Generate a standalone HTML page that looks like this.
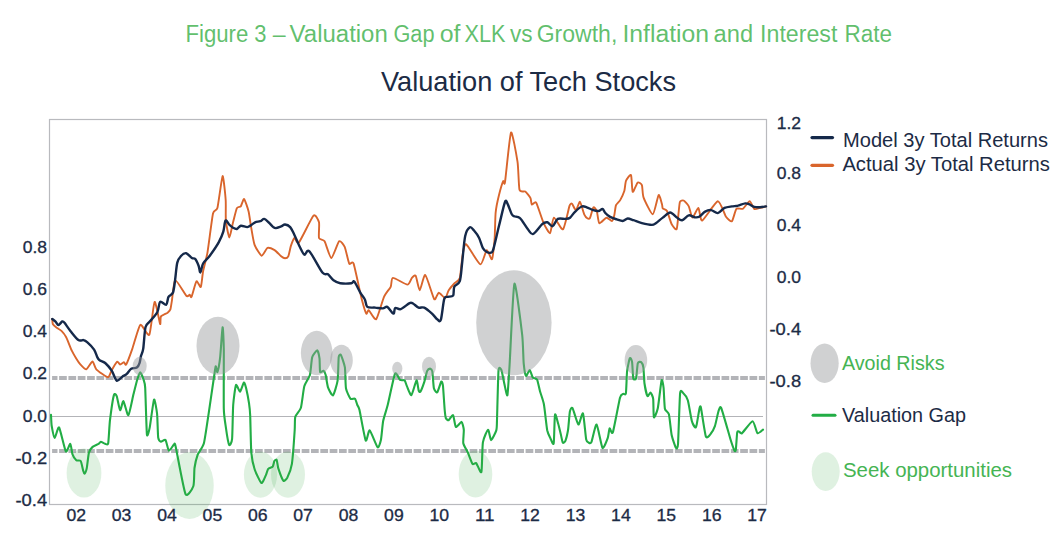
<!DOCTYPE html><html><head><meta charset="utf-8"><title>Valuation of Tech Stocks</title><style>
html,body{margin:0;padding:0;background:#fff;}body{width:1064px;height:538px;overflow:hidden;}svg{display:block;}
text{font-family:"Liberation Sans",sans-serif;}
</style></head><body>
<svg width="1064" height="538" viewBox="0 0 1064 538">
<rect x="0" y="0" width="1064" height="538" fill="#fff"/>
<text x="185.4" y="41.8" font-size="23" fill="#45b453" fill-opacity="0.85" textLength="63.0" lengthAdjust="spacingAndGlyphs">Figure</text>
<text x="254.2" y="41.8" font-size="23" fill="#45b453" fill-opacity="0.85" textLength="12.2" lengthAdjust="spacingAndGlyphs">3</text>
<text x="272.7" y="41.8" font-size="23" fill="#45b453" fill-opacity="0.85" textLength="12.9" lengthAdjust="spacingAndGlyphs">–</text>
<text x="289.6" y="41.8" font-size="23" fill="#45b453" fill-opacity="0.85" textLength="98.2" lengthAdjust="spacingAndGlyphs">Valuation</text>
<text x="393.4" y="41.8" font-size="23" fill="#45b453" fill-opacity="0.85" textLength="41.1" lengthAdjust="spacingAndGlyphs">Gap</text>
<text x="439.7" y="41.8" font-size="23" fill="#45b453" fill-opacity="0.85" textLength="20.8" lengthAdjust="spacingAndGlyphs">of</text>
<text x="464.5" y="41.8" font-size="23" fill="#45b453" fill-opacity="0.85" textLength="41.1" lengthAdjust="spacingAndGlyphs">XLK</text>
<text x="509.9" y="41.8" font-size="23" fill="#45b453" fill-opacity="0.85" textLength="22.6" lengthAdjust="spacingAndGlyphs">vs</text>
<text x="536.7" y="41.8" font-size="23" fill="#45b453" fill-opacity="0.85" textLength="80.6" lengthAdjust="spacingAndGlyphs">Growth,</text>
<text x="622.4" y="41.8" font-size="23" fill="#45b453" fill-opacity="0.85" textLength="86.7" lengthAdjust="spacingAndGlyphs">Inflation</text>
<text x="713.6" y="41.8" font-size="23" fill="#45b453" fill-opacity="0.85" textLength="39.5" lengthAdjust="spacingAndGlyphs">and</text>
<text x="760.1" y="41.8" font-size="23" fill="#45b453" fill-opacity="0.85" textLength="77.3" lengthAdjust="spacingAndGlyphs">Interest</text>
<text x="844.4" y="41.8" font-size="23" fill="#45b453" fill-opacity="0.85" textLength="47.5" lengthAdjust="spacingAndGlyphs">Rate</text>
<text x="381" y="90.8" font-size="27.5" fill="#1c2b45" textLength="295" lengthAdjust="spacingAndGlyphs">Valuation of Tech Stocks</text>
<rect x="49.5" y="119.5" width="717" height="385" fill="none" stroke="#b9babe" stroke-width="1.2"/>
<line x1="52" y1="416.5" x2="763" y2="416.5" stroke="#b3b4b8" stroke-width="1.2"/>
<line x1="52.1" y1="378.0" x2="764.9" y2="378.0" stroke="#b3b4b8" stroke-width="4" stroke-dasharray="7.7 1.63" stroke-dashoffset="2.33"/>
<line x1="52.1" y1="451.0" x2="764.9" y2="451.0" stroke="#b3b4b8" stroke-width="4" stroke-dasharray="7.7 1.63" stroke-dashoffset="2.33"/>
<path d="M52.2,318.9 C52.3,319.4 52.4,323.2 52.8,324.0 C53.2,324.8 55.2,326.6 56.1,327.3 C57.0,328.0 60.7,330.2 61.7,331.2 C62.7,332.2 65.2,335.4 66.2,337.3 C67.2,339.2 70.8,348.6 71.8,350.7 C72.8,352.8 75.4,357.2 76.2,358.5 C77.0,359.8 79.1,363.0 80.1,364.1 C81.1,365.2 85.1,369.6 86.3,369.3 C87.5,369.0 91.5,361.5 92.5,361.5 C93.5,361.5 94.8,367.7 96.3,369.3 C97.8,370.9 106.3,377.1 107.8,377.3 C109.3,377.5 110.5,372.7 111.1,371.7 C111.7,370.7 112.8,368.2 113.4,367.2 C114.0,366.2 116.6,362.0 117.3,361.7 C118.0,361.4 119.4,364.4 120.1,364.5 C120.8,364.6 123.4,362.2 124.0,362.2 C124.6,362.2 125.4,365.8 126.2,364.5 C127.0,363.2 130.9,352.9 132.3,348.9 C133.7,344.9 138.6,326.3 140.3,324.9 C142.0,323.5 147.9,337.1 149.3,334.8 C150.7,332.5 153.5,303.0 154.6,301.9 C155.7,300.8 159.5,322.6 160.1,324.0 C160.7,325.4 160.2,317.5 161.0,316.4 C161.8,315.3 166.7,313.4 167.6,312.7 C168.5,312.0 170.0,310.5 170.4,309.4 C170.8,308.3 171.3,304.3 171.8,301.4 C172.3,298.5 173.8,280.8 175.2,280.2 C176.6,279.6 184.9,294.4 186.3,295.8 C187.8,297.2 189.2,294.6 189.7,294.7 C190.2,294.8 190.8,298.2 191.5,296.9 C192.2,295.6 195.5,282.3 196.4,281.3 C197.3,280.3 200.1,287.9 200.8,286.9 C201.5,285.9 202.4,274.8 203.1,271.3 C203.8,267.8 206.5,258.1 207.5,252.3 C208.5,246.5 212.0,217.9 213.0,213.5 C214.0,209.1 216.4,211.7 217.4,208.0 C218.4,204.3 221.8,176.9 222.6,176.1 C223.4,175.3 225.4,195.7 225.7,200.2 C226.0,204.7 225.5,217.5 225.9,221.2 C226.3,224.9 228.7,237.4 229.4,237.5 C230.1,237.6 232.2,225.4 233.0,222.5 C233.8,219.6 236.1,209.8 236.9,208.2 C237.7,206.6 240.1,207.2 240.8,206.3 C241.5,205.4 243.3,198.6 244.1,199.1 C244.9,199.6 247.9,208.6 248.6,211.5 C249.3,214.4 250.6,224.4 251.2,227.7 C251.8,231.0 253.5,241.8 254.5,244.6 C255.5,247.4 260.3,255.4 261.6,255.7 C262.9,256.0 266.2,248.5 267.5,247.9 C268.8,247.3 273.2,249.3 274.6,250.1 C276.0,250.9 280.1,255.5 281.1,256.3 C282.1,257.1 284.3,258.3 285.0,258.3 C285.7,258.3 287.7,257.5 288.3,256.3 C288.9,255.1 290.3,247.7 290.9,245.9 C291.5,244.1 293.7,238.3 294.5,238.0 C295.3,237.7 297.1,244.6 299.0,242.4 C300.9,240.2 311.5,217.7 313.5,215.7 C315.5,213.7 318.4,220.1 319.0,222.3 C319.6,224.5 318.4,236.1 319.0,238.0 C319.6,239.9 323.4,239.3 324.6,241.3 C325.8,243.3 329.9,258.0 331.3,258.0 C332.8,258.0 337.8,242.4 339.1,241.3 C340.4,240.2 343.7,244.7 344.7,246.9 C345.7,249.1 348.3,261.9 349.2,263.6 C350.1,265.3 352.4,260.1 353.6,263.6 C354.9,267.2 360.4,294.1 361.7,299.1 C363.0,304.1 365.5,312.5 366.2,313.6 C366.9,314.7 367.8,309.6 368.8,310.2 C369.8,310.8 374.7,320.5 376.2,319.2 C377.7,317.9 382.6,300.0 384.0,296.8 C385.4,293.6 389.8,288.7 390.7,286.8 C391.6,284.9 391.2,278.1 392.9,277.9 C394.6,277.7 405.5,284.6 407.4,284.6 C409.3,284.6 411.1,278.8 411.9,277.9 C412.7,277.0 414.9,274.5 415.7,275.7 C416.5,276.9 418.7,290.3 419.7,290.2 C420.7,290.1 423.9,274.1 425.3,275.0 C426.8,275.9 432.9,297.3 434.2,299.1 C435.5,300.9 437.6,292.9 438.7,292.8 C439.8,292.7 444.3,298.3 445.3,298.0 C446.3,297.7 447.8,291.6 448.7,290.2 C449.6,288.8 453.2,284.7 454.3,283.5 C455.4,282.3 459.0,280.6 459.8,277.9 C460.6,275.1 461.9,259.4 462.5,256.0 C463.1,252.6 464.2,243.4 466.0,244.2 C467.8,245.0 478.2,263.8 480.3,264.4 C482.4,265.0 485.6,250.6 486.8,250.1 C488.0,249.6 491.2,260.3 492.0,259.2 C492.8,258.1 494.2,243.6 494.6,239.0 C495.0,234.4 495.2,217.4 495.6,213.0 C496.0,208.6 498.2,198.2 499.0,195.0 C499.8,191.8 502.6,182.5 503.2,181.2 C503.8,179.9 504.2,186.9 505.0,182.0 C505.8,177.1 509.8,134.5 511.0,132.5 C512.2,130.5 516.6,155.9 517.5,161.6 C518.4,167.3 518.7,186.8 519.5,189.8 C520.3,192.8 524.2,190.8 525.3,191.6 C526.4,192.4 529.9,196.8 530.5,198.1 C531.1,199.4 531.2,204.1 531.8,204.6 C532.4,205.1 535.0,201.0 536.2,202.8 C537.4,204.6 542.1,219.8 543.5,222.8 C544.9,225.8 549.0,233.7 550.0,233.2 C551.0,232.7 552.6,218.0 553.9,217.6 C555.2,217.2 561.4,230.5 563.0,229.3 C564.6,228.1 568.6,208.5 569.5,205.9 C570.4,203.3 571.4,203.4 572.0,203.8 C572.6,204.2 575.1,210.4 575.9,210.2 C576.7,210.0 579.2,201.4 580.0,201.8 C580.8,202.2 583.4,212.6 584.2,214.3 C585.0,216.0 587.0,218.2 587.6,218.5 C588.2,218.8 589.5,218.8 590.1,217.7 C590.7,216.6 592.7,208.0 593.4,207.3 C594.1,206.6 596.2,209.4 596.8,211.0 C597.4,212.6 598.3,222.5 599.3,223.2 C600.3,223.9 605.2,217.9 606.5,217.7 C607.8,217.5 611.0,221.2 611.8,221.0 C612.6,220.8 613.9,216.8 614.3,215.2 C614.7,213.6 615.4,206.7 616.0,205.2 C616.6,203.7 619.4,201.5 620.2,200.1 C621.0,198.7 623.7,192.9 624.3,191.0 C624.9,189.1 625.3,182.5 626.0,180.9 C626.7,179.3 630.3,173.9 631.0,175.0 C631.7,176.1 632.0,191.0 632.7,191.8 C633.4,192.6 636.8,183.3 637.7,182.6 C638.6,181.9 641.3,183.6 641.9,185.1 C642.5,186.6 642.5,194.7 643.6,197.6 C644.7,200.5 651.3,214.6 652.8,214.3 C654.3,214.1 657.7,196.1 658.6,195.1 C659.5,194.1 661.6,203.0 662.0,204.3 C662.4,205.6 662.3,207.8 662.8,208.5 C663.3,209.2 666.1,209.4 667.0,211.0 C667.9,212.6 670.7,222.5 671.7,224.3 C672.7,226.1 675.9,230.2 676.6,229.2 C677.3,228.2 678.1,217.3 678.4,214.6 C678.7,211.9 679.4,203.4 679.9,202.0 C680.4,200.6 682.7,200.1 683.6,200.5 C684.5,200.9 687.9,204.7 688.8,206.4 C689.7,208.1 691.5,217.4 692.5,217.6 C693.5,217.8 697.4,207.6 698.4,207.9 C699.4,208.2 700.3,221.2 702.2,220.5 C704.1,219.8 715.4,201.6 717.8,201.2 C720.2,200.8 724.6,214.8 726.0,216.8 C727.4,218.8 730.9,222.1 731.9,221.3 C732.9,220.5 735.3,210.2 736.4,208.9 C737.5,207.6 741.7,209.5 743.0,208.7 C744.3,207.9 748.6,201.2 749.7,201.2 C750.8,201.2 753.2,208.2 754.2,208.9 C755.2,209.6 758.9,208.2 760.1,207.9 C761.3,207.7 765.4,206.6 766.0,206.4" fill="none" stroke="#d9652c" stroke-width="1.9" stroke-linejoin="round" stroke-linecap="round"/>
<path d="M52.2,318.9 C52.7,319.3 54.7,320.8 55.6,321.7 C56.5,322.6 57.4,325.1 58.4,325.1 C59.4,325.1 61.4,321.8 62.3,321.5 C63.2,321.2 63.3,321.3 64.5,322.8 C65.7,324.3 68.5,328.6 70.6,331.2 C72.7,333.8 76.5,338.8 78.4,340.1 C80.3,341.4 82.2,339.8 83.5,340.1 C84.8,340.4 85.8,340.9 87.4,342.3 C89.0,343.7 92.6,347.3 94.1,349.6 C95.6,351.9 96.6,355.8 97.4,357.4 C98.2,359.0 98.4,359.4 99.6,360.2 C100.8,361.0 103.4,361.4 105.2,363.0 C107.0,364.6 110.0,368.0 111.7,370.6 C113.4,373.2 115.1,379.7 116.7,380.6 C118.3,381.5 120.8,377.7 122.3,376.7 C123.8,375.7 125.5,375.1 126.8,373.9 C128.1,372.7 129.7,369.6 131.2,368.7 C132.7,367.8 135.5,368.5 136.8,367.6 C138.1,366.7 139.0,364.6 139.6,362.8 C140.2,361.0 140.5,358.0 141.0,355.9 C141.5,353.8 142.5,353.2 143.2,348.9 C143.9,344.6 144.5,331.4 145.5,327.3 C146.5,323.2 147.9,323.9 149.7,321.6 C151.5,319.3 155.7,315.2 157.3,312.2 C158.9,309.2 158.8,303.0 160.1,301.9 C161.4,300.8 164.9,305.4 166.2,304.7 C167.5,303.9 167.5,298.7 168.5,296.9 C169.5,295.1 172.0,295.2 173.0,292.5 C174.0,289.8 174.6,283.6 175.2,279.1 C175.8,274.6 176.4,266.1 177.3,262.6 C178.2,259.1 179.7,257.4 181.0,256.0 C182.3,254.6 184.6,252.9 186.2,253.2 C187.8,253.5 190.5,257.0 191.9,257.9 C193.3,258.8 194.3,257.8 195.3,259.0 C196.3,260.2 197.8,263.7 198.6,265.7 C199.4,267.7 199.7,272.7 200.4,272.4 C201.1,272.1 201.7,266.0 203.1,263.5 C204.5,261.0 207.5,258.9 209.8,255.7 C212.1,252.5 216.7,245.9 218.7,242.3 C220.7,238.7 222.3,234.9 223.3,231.6 C224.3,228.3 224.6,221.7 225.5,220.6 C226.4,219.5 228.0,223.4 229.1,224.5 C230.2,225.6 231.8,227.0 233.0,227.7 C234.2,228.4 235.7,229.3 236.9,229.0 C238.1,228.7 239.2,226.1 240.8,225.8 C242.4,225.5 245.7,227.2 247.3,227.1 C248.9,227.0 250.0,225.8 251.2,225.1 C252.4,224.4 253.7,222.9 255.1,222.3 C256.5,221.7 258.9,221.7 260.3,221.2 C261.7,220.7 262.9,218.7 264.2,218.9 C265.5,219.1 267.4,221.3 268.8,222.5 C270.2,223.7 272.2,226.3 273.3,227.1 C274.4,227.9 274.7,228.2 275.9,228.1 C277.1,228.0 279.7,226.9 281.1,226.4 C282.5,225.9 283.6,224.4 285.0,224.5 C286.4,224.6 288.8,225.6 290.2,227.1 C291.6,228.6 292.6,231.2 294.1,234.2 C295.6,237.2 298.4,244.1 300.0,247.2 C301.6,250.3 303.1,254.1 304.5,254.7 C305.9,255.3 306.7,248.6 309.4,251.3 C312.1,254.0 319.6,269.1 322.4,272.5 C325.2,275.9 326.3,273.1 328.0,274.3 C329.7,275.5 331.7,279.0 333.5,280.3 C335.3,281.6 337.5,282.8 340.2,283.2 C342.9,283.6 349.3,283.5 351.4,283.2 C353.5,282.9 353.0,280.1 354.3,281.5 C355.6,282.9 358.7,289.9 360.3,292.6 C361.9,295.3 363.8,297.2 364.8,299.3 C365.9,301.4 365.8,305.7 367.3,306.9 C368.8,308.1 372.8,307.4 375.1,307.6 C377.4,307.8 381.1,308.5 382.9,308.4 C384.7,308.3 385.7,306.1 387.3,306.9 C388.9,307.7 392.2,313.4 393.4,313.6 C394.6,313.8 394.1,308.7 395.2,308.0 C396.3,307.3 398.5,309.8 400.7,309.1 C402.9,308.4 407.8,303.9 409.6,303.1 C411.4,302.3 411.6,302.8 413.0,303.5 C414.4,304.2 416.9,307.0 418.6,307.6 C420.3,308.2 422.2,306.7 424.2,307.6 C426.2,308.5 430.0,311.8 432.0,313.6 C434.0,315.4 436.2,318.7 437.5,319.6 C438.8,320.5 439.9,322.7 440.9,319.6 C441.9,316.5 443.2,302.5 444.2,299.1 C445.2,295.7 446.3,297.3 447.6,296.8 C448.9,296.3 452.1,297.2 453.1,295.7 C454.1,294.2 453.3,289.0 454.3,286.8 C455.3,284.6 458.6,284.7 459.8,281.2 C461.0,277.7 461.3,270.2 462.1,263.4 C462.9,256.6 464.0,241.4 465.2,236.0 C466.4,230.6 468.6,228.1 469.9,227.3 C471.2,226.5 472.6,228.9 474.0,230.5 C475.4,232.1 477.7,235.1 479.0,237.7 C480.3,240.3 481.7,246.0 482.9,248.1 C484.1,250.2 485.6,251.3 486.8,252.0 C488.0,252.7 489.7,253.1 490.7,252.7 C491.7,252.3 492.0,253.6 493.3,249.4 C494.6,245.2 497.4,232.1 499.2,225.0 C501.0,217.9 503.7,205.2 505.0,202.0 C506.3,198.8 506.6,202.1 507.6,203.9 C508.6,205.7 510.5,211.8 511.5,213.7 C512.5,215.6 512.8,215.6 514.1,216.3 C515.4,217.0 517.9,216.2 520.0,218.2 C522.1,220.1 525.9,226.9 527.9,229.3 C529.9,231.7 531.0,234.8 533.1,234.0 C535.2,233.2 540.1,225.9 542.2,224.1 C544.3,222.3 545.8,222.0 547.4,222.3 C549.0,222.6 551.0,226.7 552.6,226.2 C554.2,225.7 555.8,220.0 557.8,218.9 C559.8,217.8 563.8,219.1 565.6,218.9 C567.4,218.7 568.6,218.8 570.0,217.7 C571.4,216.6 573.2,213.5 575.0,211.8 C576.8,210.1 579.9,207.2 581.7,206.5 C583.5,205.8 584.9,206.7 586.7,207.3 C588.5,207.9 591.6,209.6 593.4,210.2 C595.2,210.8 597.0,211.2 598.4,211.0 C599.8,210.8 601.6,208.7 602.6,209.0 C603.6,209.3 604.0,211.5 605.1,212.7 C606.2,213.9 608.3,215.9 610.1,216.9 C611.9,217.9 614.9,218.8 616.8,219.4 C618.7,220.0 621.1,221.1 622.7,221.0 C624.3,220.9 626.1,218.6 627.7,218.5 C629.3,218.4 631.4,219.5 633.5,220.2 C635.6,220.9 639.1,222.5 641.9,223.2 C644.7,223.9 649.8,224.9 651.9,224.9 C654.0,224.9 654.2,224.3 655.8,223.2 C657.4,222.1 660.6,219.2 662.8,217.6 C665.0,216.0 668.1,212.5 670.2,212.5 C672.3,212.5 675.1,216.4 676.9,217.6 C678.7,218.8 680.3,220.5 682.1,220.2 C683.9,219.9 686.9,215.7 688.8,215.3 C690.7,214.9 693.1,217.1 694.7,217.3 C696.3,217.5 697.6,217.7 699.2,216.8 C700.8,215.9 703.3,212.6 705.1,211.6 C706.9,210.6 709.2,209.9 711.1,210.1 C713.0,210.3 715.8,213.4 717.8,213.1 C719.8,212.8 722.4,208.9 724.5,207.9 C726.6,206.9 729.9,206.7 731.9,206.4 C733.9,206.1 735.8,206.1 737.8,205.7 C739.8,205.2 743.6,203.6 745.3,203.4 C747.0,203.2 747.7,203.7 749.0,204.2 C750.3,204.7 752.5,206.5 754.2,206.9 C755.9,207.3 758.3,207.3 760.1,207.2 C761.9,207.1 765.1,206.5 766.0,206.4" fill="none" stroke="#15294a" stroke-width="2.4" stroke-linejoin="round" stroke-linecap="round"/>
<path d="M51.0,414.9 C51.1,416.0 51.3,423.7 51.7,426.0 C52.1,428.3 54.0,437.9 54.7,438.0 C55.4,438.1 58.0,426.2 59.1,427.5 C60.2,428.8 64.7,449.7 65.8,451.3 C66.9,452.9 69.6,443.6 70.3,443.9 C71.0,444.2 71.9,452.7 72.5,454.3 C73.1,455.9 75.5,459.6 76.3,460.3 C77.1,461.0 80.0,460.0 80.7,461.0 C81.4,462.0 82.6,468.6 83.0,469.9 C83.4,471.2 84.0,473.8 84.4,473.7 C84.8,473.6 86.2,470.6 86.7,468.5 C87.2,466.4 88.3,455.0 88.9,452.8 C89.5,450.6 91.6,447.8 92.6,446.9 C93.6,446.0 97.8,444.4 98.6,443.9 C99.4,443.4 100.1,441.7 100.8,441.7 C101.5,441.7 104.6,443.8 105.3,443.9 C106.0,444.0 107.7,445.6 108.2,443.2 C108.7,440.8 109.4,424.8 110.0,420.0 C110.6,415.2 113.2,397.5 113.9,395.1 C114.6,392.7 116.1,394.7 116.7,396.2 C117.3,397.7 119.4,409.7 120.1,410.2 C120.8,410.7 122.6,400.7 123.4,401.2 C124.2,401.7 127.4,415.9 128.4,415.2 C129.4,414.5 132.5,398.2 133.4,394.6 C134.3,391.0 136.6,381.7 137.3,379.5 C138.0,377.3 139.5,372.3 140.1,372.3 C140.7,372.3 143.0,377.9 143.5,379.5 C144.0,381.1 144.9,382.4 145.2,387.9 C145.5,393.4 146.5,430.3 146.9,434.3 C147.3,438.3 149.0,431.1 149.7,427.6 C150.4,424.1 153.3,401.0 154.0,399.6 C154.7,398.2 156.7,410.2 157.1,414.0 C157.5,417.8 157.8,434.9 158.2,437.7 C158.6,440.5 160.3,441.5 161.0,441.7 C161.7,441.9 164.7,439.1 165.5,440.0 C166.3,440.9 168.1,450.2 168.9,450.7 C169.8,451.1 173.3,444.9 174.0,444.5 C174.7,444.1 174.5,441.8 175.7,446.7 C176.8,451.6 183.7,490.1 185.5,494.0 C187.3,497.9 192.5,488.6 193.4,486.0 C194.3,483.4 194.1,471.1 194.5,468.0 C194.9,464.9 196.8,457.1 197.7,454.6 C198.6,452.1 202.8,447.6 203.9,443.3 C205.0,439.0 207.9,418.4 208.9,411.8 C209.9,405.2 213.3,381.5 214.0,377.0 C214.7,372.5 215.4,366.9 215.7,366.4 C216.0,365.9 217.0,373.0 217.4,372.0 C217.8,371.0 219.7,361.3 220.2,356.8 C220.7,352.3 222.2,328.0 222.6,327.3 C223.0,326.6 223.7,341.9 223.8,350.0 C223.9,358.1 223.6,400.8 223.8,408.6 C224.0,416.4 225.4,424.0 225.9,427.6 C226.4,431.2 228.6,443.9 229.2,445.0 C229.8,446.1 231.7,442.8 232.1,438.8 C232.5,434.8 232.8,410.4 233.2,405.0 C233.6,399.6 235.3,386.3 236.0,385.0 C236.7,383.7 239.2,391.9 240.0,391.7 C240.8,391.4 243.3,382.8 243.9,382.5 C244.5,382.2 245.7,386.4 246.2,388.5 C246.7,390.6 248.6,400.5 249.0,403.2 C249.4,405.9 250.0,410.7 250.2,415.6 C250.4,420.5 250.9,447.2 251.3,452.6 C251.8,458.0 253.7,466.5 254.7,469.5 C255.7,472.5 260.3,482.4 261.4,483.0 C262.5,483.6 265.2,476.5 265.9,475.1 C266.6,473.7 267.5,469.7 268.2,468.9 C268.9,468.1 272.1,467.5 272.7,466.7 C273.3,465.9 274.0,461.7 274.4,461.0 C274.8,460.3 276.3,459.2 276.7,459.9 C277.1,460.6 277.6,466.2 278.3,468.3 C279.0,470.4 282.5,479.8 283.4,480.7 C284.3,481.6 286.5,479.1 287.4,477.4 C288.2,475.7 291.2,468.5 291.9,463.8 C292.6,459.1 294.4,434.7 294.7,430.0 C295.0,425.3 294.7,418.9 295.3,416.7 C295.9,414.5 300.0,410.7 300.9,407.7 C301.8,404.7 303.4,389.6 304.3,386.3 C305.2,383.0 309.1,377.9 309.9,375.0 C310.7,372.1 311.5,359.7 312.2,357.2 C312.9,354.7 316.6,350.3 317.3,350.4 C318.0,350.5 319.2,356.2 319.5,358.3 C319.8,360.4 319.7,370.7 320.1,371.9 C320.5,373.1 322.9,370.4 323.5,370.7 C324.1,371.0 325.2,373.3 325.7,375.0 C326.1,376.7 327.3,385.4 328.0,387.4 C328.7,389.4 332.0,396.0 333.0,395.3 C334.0,394.6 337.0,384.4 337.6,380.6 C338.2,376.8 338.4,359.8 338.7,357.2 C339.0,354.6 340.3,354.0 340.9,355.0 C341.5,356.0 344.4,364.0 344.9,367.4 C345.4,370.8 345.4,385.4 346.0,388.5 C346.6,391.6 349.6,397.7 350.5,398.7 C351.4,399.7 354.3,398.1 355.0,398.7 C355.7,399.3 356.9,403.9 357.3,405.0 C357.8,406.1 358.7,406.4 359.5,410.0 C360.3,413.6 364.7,438.5 365.7,440.5 C366.7,442.5 368.5,429.7 369.7,430.4 C370.9,431.1 376.5,446.3 377.6,447.3 C378.7,448.3 380.3,442.6 380.9,440.0 C381.5,437.4 382.5,424.3 383.2,420.8 C383.9,417.3 386.5,409.7 387.7,405.0 C388.9,400.3 393.8,376.2 395.0,373.7 C396.2,371.2 399.1,379.2 400.1,379.9 C401.1,380.6 403.9,379.8 404.6,380.4 C405.3,381.0 406.2,384.6 406.9,386.1 C407.6,387.6 410.4,395.7 411.4,395.1 C412.4,394.5 415.8,380.8 416.5,380.4 C417.2,379.9 418.3,389.5 418.7,390.6 C419.1,391.7 419.8,392.6 420.4,391.7 C421.0,390.8 423.7,383.7 424.4,381.6 C425.1,379.5 426.6,372.2 427.2,370.9 C427.8,369.6 429.5,368.6 430.0,368.6 C430.5,368.7 431.9,369.4 432.3,371.4 C432.7,373.4 433.4,386.2 433.9,388.3 C434.4,390.4 436.6,393.0 437.3,392.3 C438.0,391.6 440.7,382.2 441.3,381.6 C441.9,381.0 442.7,383.3 443.0,386.1 C443.3,388.9 444.4,406.8 444.7,410.0 C445.0,413.2 445.4,417.0 445.8,418.0 C446.2,419.0 447.9,420.5 448.6,420.2 C449.3,419.9 452.4,414.5 453.1,415.2 C453.8,415.9 455.0,426.3 455.9,427.0 C456.8,427.7 460.8,421.6 461.6,421.9 C462.4,422.2 463.6,427.7 463.8,429.8 C464.0,431.9 462.9,441.0 463.3,443.3 C463.7,445.6 466.9,450.3 467.8,452.4 C468.7,454.5 471.7,462.8 472.5,463.9 C473.3,465.0 475.3,462.3 476.2,463.1 C477.1,463.9 480.7,474.1 481.4,472.0 C482.1,469.9 482.2,446.5 482.9,442.3 C483.6,438.1 487.3,429.9 488.1,429.7 C488.9,429.5 490.3,440.0 491.1,440.1 C491.9,440.2 495.7,432.4 496.3,430.4 C496.9,428.4 496.8,426.0 497.0,420.0 C497.2,414.0 498.1,375.7 498.5,370.7 C498.9,365.7 500.8,368.7 501.4,370.0 C502.0,371.3 503.8,381.6 504.4,384.1 C505.0,386.6 506.9,397.1 507.4,395.2 C507.9,393.3 508.9,375.8 509.6,364.7 C510.3,353.6 513.1,286.8 514.4,283.8 C515.7,280.8 521.3,327.1 522.2,335.0 C523.1,342.9 523.3,359.2 523.7,363.3 C524.1,367.4 525.4,375.2 526.0,375.9 C526.6,376.6 529.0,369.9 529.7,370.0 C530.4,370.1 532.0,376.4 532.7,377.4 C533.4,378.4 536.4,378.2 537.1,379.6 C537.8,381.0 539.3,388.8 540.0,391.3 C540.7,393.8 543.2,400.4 543.9,404.3 C544.6,408.2 546.6,426.9 547.2,430.3 C547.9,433.7 549.8,436.9 550.4,438.2 C551.0,439.5 553.2,445.8 553.7,443.4 C554.2,441.0 554.5,416.7 555.0,414.7 C555.5,412.7 557.6,421.8 558.2,423.8 C558.8,425.8 560.3,432.4 560.8,434.3 C561.3,436.2 562.3,442.1 562.8,442.7 C563.3,443.3 564.9,442.0 565.4,440.8 C565.9,439.6 567.5,433.2 568.0,430.3 C568.5,427.4 569.4,413.7 569.9,411.5 C570.4,409.3 571.6,406.9 572.5,408.2 C573.4,409.5 577.4,424.0 578.4,424.5 C579.4,425.0 582.2,411.9 583.0,413.4 C583.8,414.9 585.6,436.6 586.2,439.5 C586.8,442.4 588.3,442.4 588.8,442.7 C589.3,443.0 590.6,443.9 591.4,442.1 C592.2,440.3 595.5,423.9 596.6,424.5 C597.7,425.1 601.4,446.5 602.5,447.9 C603.6,449.3 607.0,440.1 607.7,438.2 C608.4,436.2 609.1,429.0 609.6,428.4 C610.1,427.8 611.9,435.4 612.9,432.3 C613.9,429.2 619.0,401.6 620.0,397.8 C621.0,394.0 622.7,394.3 623.3,393.9 C623.9,393.4 625.5,395.6 625.9,393.3 C626.3,391.0 626.7,374.6 627.1,371.1 C627.5,367.6 629.4,359.0 629.9,358.1 C630.4,357.2 631.8,360.1 632.1,362.1 C632.4,364.1 632.9,376.8 633.3,378.4 C633.7,380.0 635.6,379.9 636.1,378.4 C636.6,376.9 637.3,364.8 637.8,363.2 C638.3,361.6 640.6,361.7 641.2,362.1 C641.8,362.6 643.1,365.6 643.4,367.7 C643.7,369.8 644.1,380.7 644.5,383.5 C644.9,386.3 646.8,395.1 647.4,396.0 C648.0,396.9 650.0,392.3 650.6,392.6 C651.2,392.9 652.9,396.6 653.2,399.1 C653.5,401.6 653.4,416.4 653.9,417.3 C654.4,418.2 657.0,411.9 657.8,408.2 C658.6,404.5 661.0,382.3 661.6,380.3 C662.2,378.3 663.3,385.2 663.6,388.0 C663.9,390.8 664.4,406.1 664.9,408.7 C665.4,411.3 668.2,411.7 668.9,414.3 C669.6,416.9 671.0,431.9 671.7,435.2 C672.4,438.5 675.3,446.8 675.9,447.7 C676.5,448.6 677.6,449.6 678.0,444.2 C678.4,438.8 679.6,398.5 680.1,393.4 C680.6,388.2 682.1,392.0 682.9,392.7 C683.7,393.4 686.9,397.4 687.8,400.3 C688.7,403.2 691.1,418.5 691.9,421.2 C692.7,423.9 694.9,427.2 695.4,427.5 C695.9,427.8 696.4,425.9 696.8,424.0 C697.2,422.1 699.2,409.6 699.6,408.0 C700.0,406.4 700.4,405.1 701.0,408.0 C701.6,410.9 704.9,434.0 705.9,436.6 C706.9,439.2 709.8,434.9 710.7,433.8 C711.6,432.8 714.1,428.3 714.9,426.1 C715.7,423.9 717.8,413.3 718.4,411.5 C719.0,409.7 720.0,405.3 721.2,408.0 C722.4,410.7 729.0,434.4 730.3,438.7 C731.6,442.9 733.9,449.4 734.4,450.5 C734.9,451.6 735.5,451.6 735.8,449.8 C736.1,448.0 736.9,434.2 737.2,432.4 C737.6,430.6 738.8,431.6 739.3,431.7 C739.8,431.8 740.8,434.2 742.1,433.1 C743.4,432.1 751.1,421.2 752.6,421.2 C754.1,421.2 756.4,432.3 757.4,433.1 C758.4,433.9 762.4,430.0 763.0,429.6" fill="none" stroke="#22ad45" stroke-width="2.1" stroke-linejoin="round" stroke-linecap="round"/>
<ellipse cx="139.7" cy="366" rx="7" ry="9.3" fill="rgb(150,152,155)" fill-opacity="0.45"/>
<ellipse cx="218" cy="345.8" rx="21.5" ry="29" fill="rgb(150,152,155)" fill-opacity="0.45"/>
<ellipse cx="316.7" cy="353" rx="15.8" ry="22.3" fill="rgb(150,152,155)" fill-opacity="0.45"/>
<ellipse cx="341.5" cy="360.3" rx="11.3" ry="15.5" fill="rgb(150,152,155)" fill-opacity="0.45"/>
<ellipse cx="397.3" cy="368.6" rx="5.1" ry="6.8" fill="rgb(150,152,155)" fill-opacity="0.45"/>
<ellipse cx="429" cy="366.6" rx="7" ry="9.9" fill="rgb(150,152,155)" fill-opacity="0.45"/>
<ellipse cx="513.9" cy="322.75" rx="37.7" ry="52.6" fill="rgb(150,152,155)" fill-opacity="0.45"/>
<ellipse cx="635.9" cy="360" rx="11.3" ry="15" fill="rgb(150,152,155)" fill-opacity="0.45"/>
<ellipse cx="84" cy="473" rx="17.4" ry="24.5" fill="rgb(58,170,75)" fill-opacity="0.165"/>
<ellipse cx="189.5" cy="485.5" rx="24.25" ry="33.4" fill="rgb(58,170,75)" fill-opacity="0.165"/>
<ellipse cx="260.5" cy="474.6" rx="16.6" ry="23.1" fill="rgb(58,170,75)" fill-opacity="0.165"/>
<ellipse cx="288" cy="474.6" rx="17" ry="23.1" fill="rgb(58,170,75)" fill-opacity="0.165"/>
<ellipse cx="475.5" cy="474" rx="16.8" ry="23.5" fill="rgb(58,170,75)" fill-opacity="0.165"/>
<text x="47.1" y="252.5" font-size="16.5" fill="#1c2b45" stroke="#1c2b45" stroke-width="0.3" text-anchor="end" textLength="24.3" lengthAdjust="spacingAndGlyphs">0.8</text>
<text x="47.1" y="294.79999999999995" font-size="16.5" fill="#1c2b45" stroke="#1c2b45" stroke-width="0.3" text-anchor="end" textLength="24.3" lengthAdjust="spacingAndGlyphs">0.6</text>
<text x="47.1" y="337.09999999999997" font-size="16.5" fill="#1c2b45" stroke="#1c2b45" stroke-width="0.3" text-anchor="end" textLength="24.3" lengthAdjust="spacingAndGlyphs">0.4</text>
<text x="47.1" y="379.4" font-size="16.5" fill="#1c2b45" stroke="#1c2b45" stroke-width="0.3" text-anchor="end" textLength="24.3" lengthAdjust="spacingAndGlyphs">0.2</text>
<text x="47.1" y="421.7" font-size="16.5" fill="#1c2b45" stroke="#1c2b45" stroke-width="0.3" text-anchor="end" textLength="24.3" lengthAdjust="spacingAndGlyphs">0.0</text>
<text x="47.1" y="463.9" font-size="16.5" fill="#1c2b45" stroke="#1c2b45" stroke-width="0.3" text-anchor="end" textLength="31.6" lengthAdjust="spacingAndGlyphs">-0.2</text>
<text x="47.1" y="506.2" font-size="16.5" fill="#1c2b45" stroke="#1c2b45" stroke-width="0.3" text-anchor="end" textLength="31.6" lengthAdjust="spacingAndGlyphs">-0.4</text>
<text x="801.1" y="129.1" font-size="16.5" fill="#1c2b45" stroke="#1c2b45" stroke-width="0.3" text-anchor="end" textLength="24.3" lengthAdjust="spacingAndGlyphs">1.2</text>
<text x="801.1" y="178.9" font-size="16.5" fill="#1c2b45" stroke="#1c2b45" stroke-width="0.3" text-anchor="end" textLength="24.3" lengthAdjust="spacingAndGlyphs">0.8</text>
<text x="801.1" y="230.9" font-size="16.5" fill="#1c2b45" stroke="#1c2b45" stroke-width="0.3" text-anchor="end" textLength="24.3" lengthAdjust="spacingAndGlyphs">0.4</text>
<text x="801.1" y="282.8" font-size="16.5" fill="#1c2b45" stroke="#1c2b45" stroke-width="0.3" text-anchor="end" textLength="24.3" lengthAdjust="spacingAndGlyphs">0.0</text>
<text x="801.1" y="334.8" font-size="16.5" fill="#1c2b45" stroke="#1c2b45" stroke-width="0.3" text-anchor="end" textLength="31.6" lengthAdjust="spacingAndGlyphs">-0.4</text>
<text x="801.1" y="386.8" font-size="16.5" fill="#1c2b45" stroke="#1c2b45" stroke-width="0.3" text-anchor="end" textLength="31.6" lengthAdjust="spacingAndGlyphs">-0.8</text>
<text x="76.2" y="520.6" font-size="16.5" fill="#1c2b45" stroke="#1c2b45" stroke-width="0.3" text-anchor="middle" textLength="19.6" lengthAdjust="spacingAndGlyphs">02</text>
<text x="121.6" y="520.6" font-size="16.5" fill="#1c2b45" stroke="#1c2b45" stroke-width="0.3" text-anchor="middle" textLength="19.6" lengthAdjust="spacingAndGlyphs">03</text>
<text x="167.0" y="520.6" font-size="16.5" fill="#1c2b45" stroke="#1c2b45" stroke-width="0.3" text-anchor="middle" textLength="19.6" lengthAdjust="spacingAndGlyphs">04</text>
<text x="212.4" y="520.6" font-size="16.5" fill="#1c2b45" stroke="#1c2b45" stroke-width="0.3" text-anchor="middle" textLength="19.6" lengthAdjust="spacingAndGlyphs">05</text>
<text x="257.8" y="520.6" font-size="16.5" fill="#1c2b45" stroke="#1c2b45" stroke-width="0.3" text-anchor="middle" textLength="19.6" lengthAdjust="spacingAndGlyphs">06</text>
<text x="303.1" y="520.6" font-size="16.5" fill="#1c2b45" stroke="#1c2b45" stroke-width="0.3" text-anchor="middle" textLength="19.6" lengthAdjust="spacingAndGlyphs">07</text>
<text x="348.5" y="520.6" font-size="16.5" fill="#1c2b45" stroke="#1c2b45" stroke-width="0.3" text-anchor="middle" textLength="19.6" lengthAdjust="spacingAndGlyphs">08</text>
<text x="393.9" y="520.6" font-size="16.5" fill="#1c2b45" stroke="#1c2b45" stroke-width="0.3" text-anchor="middle" textLength="19.6" lengthAdjust="spacingAndGlyphs">09</text>
<text x="439.3" y="520.6" font-size="16.5" fill="#1c2b45" stroke="#1c2b45" stroke-width="0.3" text-anchor="middle" textLength="19.6" lengthAdjust="spacingAndGlyphs">10</text>
<text x="484.7" y="520.6" font-size="16.5" fill="#1c2b45" stroke="#1c2b45" stroke-width="0.3" text-anchor="middle" textLength="19.6" lengthAdjust="spacingAndGlyphs">11</text>
<text x="530.1" y="520.6" font-size="16.5" fill="#1c2b45" stroke="#1c2b45" stroke-width="0.3" text-anchor="middle" textLength="19.6" lengthAdjust="spacingAndGlyphs">12</text>
<text x="575.5" y="520.6" font-size="16.5" fill="#1c2b45" stroke="#1c2b45" stroke-width="0.3" text-anchor="middle" textLength="19.6" lengthAdjust="spacingAndGlyphs">13</text>
<text x="620.9" y="520.6" font-size="16.5" fill="#1c2b45" stroke="#1c2b45" stroke-width="0.3" text-anchor="middle" textLength="19.6" lengthAdjust="spacingAndGlyphs">14</text>
<text x="666.3" y="520.6" font-size="16.5" fill="#1c2b45" stroke="#1c2b45" stroke-width="0.3" text-anchor="middle" textLength="19.6" lengthAdjust="spacingAndGlyphs">15</text>
<text x="711.7" y="520.6" font-size="16.5" fill="#1c2b45" stroke="#1c2b45" stroke-width="0.3" text-anchor="middle" textLength="19.6" lengthAdjust="spacingAndGlyphs">16</text>
<text x="757.1" y="520.6" font-size="16.5" fill="#1c2b45" stroke="#1c2b45" stroke-width="0.3" text-anchor="middle" textLength="19.6" lengthAdjust="spacingAndGlyphs">17</text>
<line x1="812" y1="137.6" x2="832.5" y2="137.6" stroke="#15294a" stroke-width="3.2" stroke-linecap="round"/>
<line x1="812" y1="165.3" x2="832.5" y2="165.3" stroke="#d9652c" stroke-width="3.2" stroke-linecap="round"/>
<text x="843" y="146.75" font-size="19.3" fill="#1c2b45" textLength="205" lengthAdjust="spacingAndGlyphs">Model 3y Total Returns</text>
<text x="842.4" y="170.8" font-size="19.3" fill="#1c2b45" textLength="207.5" lengthAdjust="spacingAndGlyphs">Actual 3y Total Returns</text>
<ellipse cx="824.6" cy="363.3" rx="14.1" ry="19.7" fill="rgb(150,152,155)" fill-opacity="0.45"/>
<text x="842" y="369.5" font-size="19.3" fill="#45b453" textLength="102.5" lengthAdjust="spacingAndGlyphs">Avoid Risks</text>
<line x1="813" y1="415.3" x2="835" y2="415.3" stroke="#22ad45" stroke-width="3" stroke-linecap="round"/>
<text x="842" y="422" font-size="19.3" fill="#1c2b45" textLength="124" lengthAdjust="spacingAndGlyphs">Valuation Gap</text>
<ellipse cx="825.7" cy="471.6" rx="14" ry="19.3" fill="rgb(58,170,75)" fill-opacity="0.165"/>
<text x="843" y="476.5" font-size="19.3" fill="#45b453" textLength="169" lengthAdjust="spacingAndGlyphs">Seek opportunities</text>
</svg></body></html>
